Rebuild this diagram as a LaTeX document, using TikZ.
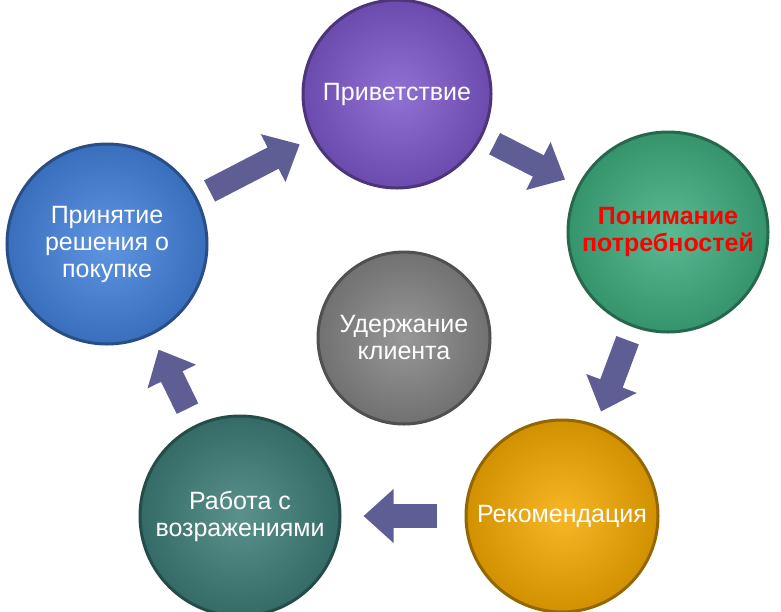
\documentclass[tikz,border=0pt]{standalone}
\usepackage{fontspec}
\setmainfont{Liberation Sans}
\usetikzlibrary{arrows.meta}
\definecolor{arr}{HTML}{5F5E94}
\definecolor{cpur}{HTML}{7E58CC}
\definecolor{cgrn}{HTML}{3FAE80}
\definecolor{corg}{HTML}{F6AA00}
\definecolor{ctea}{HTML}{3E7E79}
\definecolor{cblu}{HTML}{4382DD}
\definecolor{cgry}{HTML}{858585}
\tikzset{
  ball/.style args={#1/#2}{circle, minimum size=#2, inner color=#1!85!white, outer color=#1!85!black,
    draw=#1!60!black, line width=3pt, text=white, font=\fontsize{25}{27}\selectfont, align=center, inner sep=0pt},
  blk/.style={draw=arr, line width=24pt, -{Triangle[width=52pt,length=30pt]}, shorten <=14pt, shorten >=14pt}
}
\begin{document}
\begin{tikzpicture}[x=1pt,y=-1pt]
\useasboundingbox (0,0) rectangle (781,611);
\node[ball={cpur}/188pt] (a) at (397,94) {Приветствие};
\node[ball={cgrn}/200pt] (b) at (668,232) {\textcolor{red}{\bfseries Понимание}\\\textcolor{red}{\bfseries потребностей}};
\node[ball={corg}/192pt] (c) at (562,516) {Рекомендация};
\node[ball={ctea}/200pt] (d) at (240,516) {Работа с\\возражениями};
\node[ball={cblu}/200pt] (e) at (107,244) {Принятие\\решения о\\покупке};
\node[ball={cgry}/172pt] (f) at (404,338) {Удержание\\клиента};
\draw[blk] (e) -- (a);
\draw[blk] (a) -- (b);
\draw[blk] (b) -- (c);
\draw[blk, shorten <=28pt, shorten >=22pt] (c) -- (d);
\draw[blk, shorten <=18pt, shorten >=16pt] (d) -- (e);
\end{tikzpicture}
\end{document}
